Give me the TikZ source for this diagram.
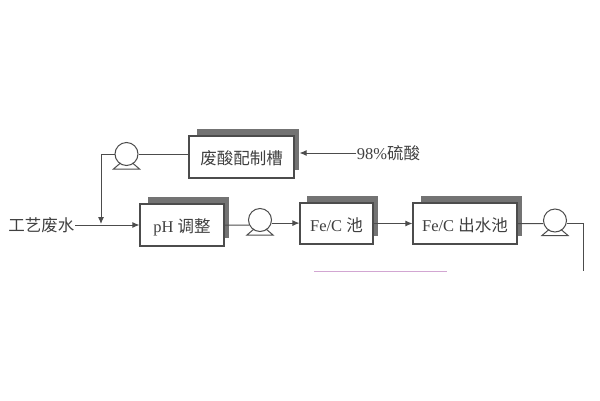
\documentclass[tikz,border=0pt]{standalone}
\usepackage{fontspec}
\setmainfont{Liberation Serif}
\newfontfamily\cjk{Noto Sans CJK SC}
\usetikzlibrary{arrows.meta, shadows, positioning}

\begin{document}
\begin{tikzpicture}[x=1pt,y=-1pt,font=\fontsize{16.5}{19}\selectfont,->,>={Latex[length=7pt,width=6pt]},line width=1pt,color=black!70]

	\tikzset{tank st/.style={draw=black!70, fill=white, inner sep=0pt, line width=1.1pt,
			minimum height=42pt, text=black!75, text height=15pt, text depth=0pt,
			copy shadow={shadow scale=0.97, shadow xshift=6.5pt, shadow yshift=7.5pt, fill=black!55, draw=none}},
		pump st/.style={circle, draw=black!70, fill=white, inner sep=0pt, minimum size=23pt},
		label st/.style={inner sep=0pt, text=black!75}}

	\useasboundingbox (0,0) rectangle (600,400);

	\node[tank st, minimum width=105pt] (mix) at (241.5,157) {\cjk 废酸配制槽};
	\node[tank st, minimum width=84pt] (ph) at (182,225) {pH \cjk 调整};
	\node[tank st, minimum width=73pt, minimum height=41pt] (fec) at (336.5,223.5) {Fe/C \cjk 池};
	\node[tank st, minimum width=104pt, minimum height=41pt] (out) at (465,223.5) {Fe/C \cjk 出水池};

	\node[pump st] (pumpA) at (126.5,154) {};
	\node[pump st] (pumpB) at (260,220) {};
	\node[pump st] (pumpC) at (555,220.5) {};

	\node[label st] (raw) at (41.5,225) {\cjk 工艺废水};
	\node[label st] (acid) at (388.5,153) {98\%\cjk 硫酸};

	\coordinate (join) at (101,224);
	\coordinate (bendA) at (101,154);
	\coordinate (endC) at (583,271);
	\coordinate (ruleL) at (314,271);
	\coordinate (ruleR) at (447,271);

	% pump feet
	\foreach \p in {pumpA,pumpB,pumpC}
		\draw[-] ([xshift=-6pt,yshift=-9pt]\p.center) -- ([xshift=-13pt,yshift=-15pt]\p.center)
			-- ([xshift=13pt,yshift=-15pt]\p.center) -- ([xshift=6pt,yshift=-9pt]\p.center);

	\draw (raw.east) -- (raw.east -| ph.west);
	\draw[-] (pumpA.east) -- (pumpA.east -| mix.west);
	\draw (pumpA.west) -- (bendA) -- (join);
	\draw (acid.west) -- ([xshift=5pt]mix.east |- acid.west);
	\draw[-] (ph.east) -- (pumpB.205);
	\draw (pumpB.-15) -- (pumpB.-15 -| fec.west);
	\draw (fec.east) -- (fec.east -| out.west);
	\draw[-] (out.east) -- (pumpC.195);
	\draw[-] (pumpC.-15) -| (endC);
	\draw[-, draw=violet!35, line width=1pt] (ruleL) -- (ruleR);

\end{tikzpicture}
\end{document}
